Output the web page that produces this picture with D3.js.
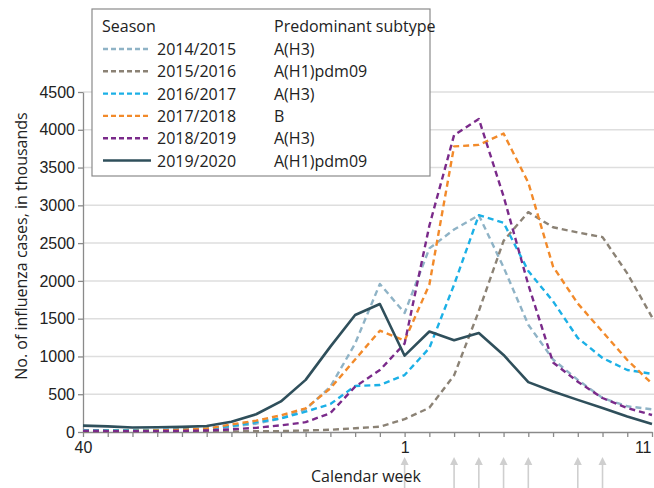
<!DOCTYPE html>
<html lang="en">
<head>
<meta charset="UTF-8">
<title>Influenza cases by season</title>
<script src="https://d3js.org/d3.v7.min.js"></script>
<style>
  body { margin: 0; background: #fff; }
  svg { font-family: "Open Sans", sans-serif; display: block; }
  .axis text { font-size: 16px; fill: #222; }
  .axis path, .axis line { stroke: #8a8a8a; stroke-width: 1.3; }
  .grid line { stroke: #dedede; stroke-width: 1.5; }
  .label { font-size: 16px; fill: #222; }
  .legend text { font-size: 16px; fill: #222; }
</style>
</head>
<body>
<div id="chart"></div>
<script>
// calendar weeks, season runs from week 40 to week 11
const weeks = ["40","41","42","43","44","45","46","47","48","49","50","51","52",
               "1","2","3","4","5","6","7","8","9","10","11"];

// cases in thousands
const s2014 = [20, 20, 22, 25, 30, 40, 70, 110, 180, 300, 600, 1170, 1960, 1575, 2430, 2680, 2870, 2180, 1420, 960, 690, 450, 340, 300];
const s2015 = [5, 5, 5, 5, 5, 5, 8, 10, 12, 20, 30, 50, 70, 170, 320, 750, 1600, 2530, 2910, 2710, 2640, 2580, 2100, 1520];
const s2016 = [25, 25, 25, 28, 35, 45, 80, 130, 180, 269, 370, 609, 622, 754, 1111, 1950, 2870, 2770, 2130, 1730, 1244, 980, 820, 770];
const s2017 = [15, 15, 15, 20, 30, 45, 100, 150, 220, 313, 578, 960, 1341, 1210, 1950, 3780, 3800, 3950, 3300, 2190, 1700, 1328, 953, 640];
const s2018 = [15, 12, 12, 12, 15, 20, 35, 55, 88, 130, 250, 600, 820, 1170, 2730, 3930, 4143, 3120, 1950, 920, 666, 450, 317, 225];
const s2019 = [85, 75, 60, 62, 68, 80, 135, 235, 405, 690, 1130, 1548, 1694, 1010, 1330, 1215, 1310, 1020, 660, 535, 425, 318, 205, 105];

const seasons = ["2014/2015", "2015/2016", "2016/2017", "2017/2018", "2018/2019", "2019/2020"];
const subtypes = ["A(H3)", "A(H1)pdm09", "A(H3)", "B", "A(H3)", "A(H1)pdm09"];
const seriesValues = [s2014, s2015, s2016, s2017, s2018, s2019];
const colors = ["#8fb3c6", "#8b8275", "#1bb0e6", "#f28a2a", "#7a2a8a", "#2f4f5b"];
const dashed = [true, true, true, true, true, false];

const yTicks = [0, 500, 1000, 1500, 2000, 2500, 3000, 3500, 4000, 4500];
const labelledWeeks = ["40", "1", "11"];
const arrowWeeks = ["1", "3", "4", "5", "6", "8", "9"];

const width = 654, height = 488;
const mLeft = 83, mRight = 652, mTop = 92, mBottom = 432;

const svg = d3.select("#chart").append("svg").attr("width", width).attr("height", height);

const x = d3.scalePoint().domain(weeks).range([mLeft, mRight]);
const y = d3.scaleLinear().domain([0, 4500]).range([mBottom, mTop]);

// gridlines
svg.append("g").attr("class", "grid")
  .selectAll("line")
  .data(yTicks.filter(d => d > 0))
  .enter().append("line")
  .attr("x1", mLeft).attr("x2", width)
  .attr("y1", d => y(d)).attr("y2", d => y(d));

// arrows below the axis (drawn before the axis title so text sits on top)
const arrows = svg.append("g").attr("fill", "#cfcfcf").attr("stroke", "#cfcfcf");
arrowWeeks.forEach(w => {
  const ax = x(w);
  arrows.append("line").attr("x1", ax).attr("x2", ax).attr("y1", 462).attr("y2", height).attr("stroke-width", 1.6);
  arrows.append("path").attr("stroke", "none")
    .attr("d", `M${ax},457 L${ax - 4},465 L${ax + 4},465 Z`);
});

// axes
svg.append("g").attr("class", "axis")
  .attr("transform", `translate(${mLeft},0)`)
  .call(d3.axisLeft(y).tickValues(yTicks).tickFormat(d3.format("d"))
    .tickSize(5).tickSizeOuter(0).tickPadding(3));

const xAxis = svg.append("g").attr("class", "axis")
  .attr("transform", `translate(0,${mBottom})`)
  .call(d3.axisBottom(x).tickSize(5).tickSizeOuter(0).tickPadding(5)
    .tickFormat(d => labelledWeeks.includes(d) ? d : ""));
// last label sits at the right edge, keep it inside the picture
xAxis.selectAll(".tick text").filter(d => d === "11")
  .attr("text-anchor", "end").attr("dx", -1);

// axis titles
svg.append("text").attr("class", "label")
  .attr("x", 366).attr("y", 482).attr("text-anchor", "middle")
  .text("Calendar week");
svg.append("text").attr("class", "label")
  .attr("transform", "translate(27,246) rotate(-90)").attr("text-anchor", "middle")
  .text("No. of influenza cases, in thousands");

// season lines
const line = d3.line().x((d, i) => x(weeks[i])).y(d => y(d));
seriesValues.forEach((vals, k) => {
  svg.append("path")
    .datum(vals)
    .attr("fill", "none")
    .attr("stroke", colors[k])
    .attr("stroke-width", dashed[k] ? 2.4 : 2.6)
    .attr("stroke-dasharray", dashed[k] ? "6,4" : null)
    .attr("stroke-linejoin", "round")
    .attr("d", line);
});

// legend
const lg = svg.append("g").attr("class", "legend");
lg.append("rect").attr("x", 92).attr("y", 9).attr("width", 338).attr("height", 167)
  .attr("fill", "#fff").attr("stroke", "#8a8a8a").attr("stroke-width", 1.2);
lg.append("text").attr("x", 102).attr("y", 32).text("Season");
lg.append("text").attr("x", 274).attr("y", 32).text("Predominant subtype");
seasons.forEach((s, i) => {
  const cy = 49 + i * 22.3;
  lg.append("line").attr("x1", 103).attr("x2", 151).attr("y1", cy).attr("y2", cy)
    .attr("stroke", colors[i]).attr("stroke-width", dashed[i] ? 2.4 : 2.6)
    .attr("stroke-dasharray", dashed[i] ? "5,3" : null);
  lg.append("text").attr("x", 157).attr("y", cy + 6).text(s);
  lg.append("text").attr("x", 274).attr("y", cy + 6).text(subtypes[i]);
});
</script>
</body>
</html>
